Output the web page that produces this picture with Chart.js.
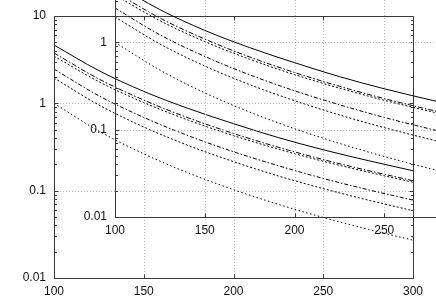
<!DOCTYPE html>
<html><head><meta charset="utf-8">
<script src="https://cdn.jsdelivr.net/npm/chart.js@4"></script>
<style>
html,body{margin:0;padding:0;background:#fff;overflow:hidden;width:436px;height:305px}
#wrap{position:relative;width:436px;height:305px;overflow:hidden;background:#fff}
canvas{position:absolute}
#c1{left:0;top:0}
#c2{left:61px;top:-61px}
</style></head><body>
<div id="wrap"><canvas id="c1" width="436" height="305"></canvas><canvas id="c2" width="436" height="305"></canvas></div>
<script>
// ---- data ----
const xValues = [100, 125, 150, 175, 200, 225, 250, 275, 300];
const seriesA = [4.65, 2.37, 1.37, 0.87, 0.585, 0.405, 0.294, 0.221, 0.169]; // solid
const seriesB = [3.77, 1.90, 1.09, 0.68, 0.452, 0.314, 0.227, 0.170, 0.130]; // dash-dot
const seriesC = [3.47, 1.77, 1.02, 0.64, 0.427, 0.299, 0.217, 0.163, 0.125]; // dotted
const seriesD = [2.47, 1.22, 0.69, 0.425, 0.279, 0.193, 0.138, 0.1025, 0.078]; // dash-dot
const seriesE = [1.95, 0.958, 0.536, 0.328, 0.215, 0.1475, 0.1055, 0.078, 0.059]; // dotted
const seriesF = [1.00, 0.481, 0.264, 0.159, 0.1027, 0.0697, 0.0493, 0.0361, 0.0271]; // dotted
const xTicks = [100, 150, 200, 250, 300];
const yTicks = [0.01, 0.1, 1, 10];
const yTickLabels = ['0.01', '0.1', '1', '10'];

const seriesList = [seriesA, seriesB, seriesC, seriesD, seriesE, seriesF];
const dashes = [[], [5, 2, 1.5, 2], [2, 2], [4, 2, 1.5, 2], [2, 2], [1.5, 2.5]];

Chart.defaults.font.family = '"Liberation Sans", Arial, sans-serif';
Chart.defaults.font.size = 12;
Chart.defaults.color = '#111';

const frameGrid = {
  id: 'frameGrid',
  beforeDatasetsDraw(chart) {
    const {ctx, chartArea: a, scales: {x, y}} = chart;
    ctx.save();
    ctx.strokeStyle = '#b8b8b8';
    ctx.lineWidth = 1;
    ctx.setLineDash([1, 2]);
    ctx.beginPath();
    xTicks.forEach(v => {
      if (v > x.min && v < x.max) {
        const px = Math.round(x.getPixelForValue(v)) + 0.5;
        ctx.moveTo(px, a.top); ctx.lineTo(px, a.bottom);
      }
    });
    yTicks.forEach(v => {
      if (v > y.min * 1.001 && v < y.max * 0.999) {
        const py = Math.round(y.getPixelForValue(v)) + 0.5;
        ctx.moveTo(a.left, py); ctx.lineTo(a.right, py);
      }
    });
    ctx.stroke();
    ctx.restore();
  },
  afterDatasetsDraw(chart) {
    const {ctx, chartArea: a, scales: {x, y}} = chart;
    ctx.save();
    ctx.strokeStyle = '#3a3a3a';
    ctx.lineWidth = 1;
    ctx.setLineDash([]);
    const L = Math.round(a.left) + 0.5, R = Math.round(a.right) + 0.5;
    const T = Math.round(a.top) + 0.5, B = Math.round(a.bottom) + 0.5;
    ctx.beginPath();
    ctx.rect(L, T, R - L, B - T);
    // x major ticks (inward, bottom and top)
    xTicks.forEach(v => {
      const px = Math.round(x.getPixelForValue(v)) + 0.5;
      ctx.moveTo(px, B); ctx.lineTo(px, B - 4);
      ctx.moveTo(px, T); ctx.lineTo(px, T + 4);
    });
    // y major and minor ticks (inward, left and right)
    yTicks.forEach((d, i) => {
      const py = Math.round(y.getPixelForValue(d)) + 0.5;
      ctx.moveTo(L, py); ctx.lineTo(L + 4, py);
      ctx.moveTo(R, py); ctx.lineTo(R - 4, py);
      if (i < yTicks.length - 1) {
        for (let k = 2; k <= 9; k++) {
          const pm = Math.round(y.getPixelForValue(d * k)) + 0.5;
          ctx.moveTo(L, pm); ctx.lineTo(L + 2.5, pm);
          ctx.moveTo(R, pm); ctx.lineTo(R - 2.5, pm);
        }
      }
    });
    ctx.stroke();
    ctx.restore();
  }
};

function makeChart(id) {
  const datasets = seriesList.map((s, i) => ({
    data: xValues.map((xv, j) => ({x: xv, y: s[j]})),
    borderColor: '#000',
    borderWidth: 1,
    borderDash: dashes[i],
    pointRadius: 0,
    fill: false,
    cubicInterpolationMode: 'monotone'
  }));
  return new Chart(document.getElementById(id), {
    type: 'line',
    data: {datasets},
    options: {
      responsive: false,
      animation: false,
      devicePixelRatio: 1,
      layout: {padding: {top: 16, right: 23, left: 0, bottom: 0}},
      plugins: {legend: {display: false}, tooltip: {enabled: false}},
      scales: {
        x: {
          type: 'linear', min: 100, max: 300,
          grid: {display: false, drawTicks: false},
          border: {display: false},
          ticks: {stepSize: 50, padding: 6, maxRotation: 0,
            callback: v => xTicks.includes(v) ? String(v) : ''},
          afterFit: s => { s.height = 27; }
        },
        y: {
          type: 'logarithmic', min: 0.01, max: 10,
          grid: {display: false, drawTicks: false},
          border: {display: false},
          ticks: {autoSkip: false, padding: 8,
            callback: v => {
              const i = yTicks.findIndex(t => Math.abs(Math.log10(t) - Math.log10(v)) < 1e-6);
              return i >= 0 ? yTickLabels[i] : '';
            }},
          afterFit: s => { s.width = 54; }
        }
      }
    },
    plugins: [frameGrid]
  });
}
makeChart('c1');
makeChart('c2');
</script>
</body></html>
